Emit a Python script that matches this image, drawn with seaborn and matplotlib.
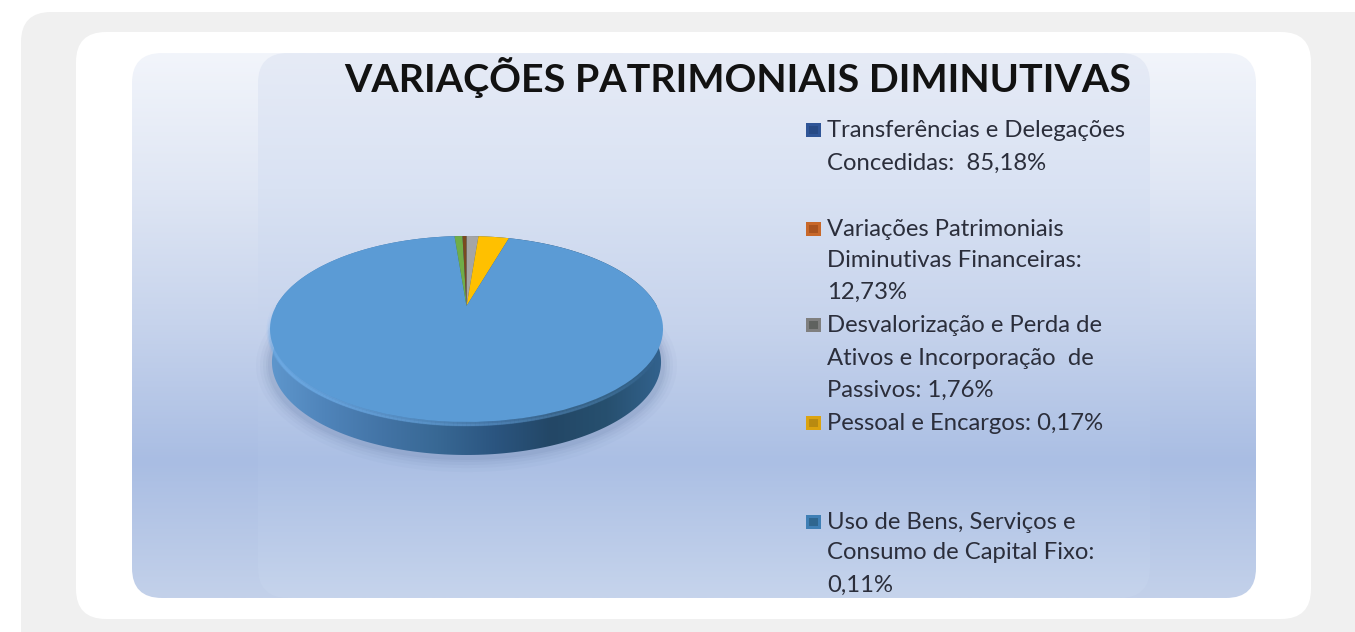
import numpy as np
import matplotlib
matplotlib.use('Agg')
import matplotlib.pyplot as plt
from matplotlib.collections import LineCollection
from matplotlib.patches import FancyBboxPatch, Polygon
from matplotlib.transforms import Transform
import seaborn as sns

# Data
slice_values = [1.25, 3.2, 94.3, 0.83, 0.42]
slice_colors = ['#a5a5a5', '#ffc000', '#5b9bd5', '#70ad47', '#7a4a1e']
legend_names = ['Transferências e Delegações\nConcedidas:  ', 'Variações Patrimoniais\nDiminutivas Financeiras:\n',
                'Desvalorização e Perda de\nAtivos e Incorporação  de\nPassivos: ', 'Pessoal e Encargos: ',
                'Uso de Bens, Serviços e\nConsumo de Capital Fixo:\n']
legend_values = ['85,18%', '12,73%', '1,76%', '0,17%', '0,11%']
legend_colors = ['#2f5597', '#c8682a', '#7f7f7f', '#dca30f', '#3f7fb5']
legend_centres = ['#274a85', '#a9531f', '#5f625f', '#b98a10', '#2f668f']
title = 'VARIAÇÕES PATRIMONIAIS DIMINUTIVAS'

sns.set_theme(style='white')
plt.rcParams['font.family'] = ['Lato', 'DejaVu Sans']

fig = plt.figure(figsize=(13.55, 6.32), dpi=100, facecolor='white')
ax = fig.add_axes([0, 0, 1, 1])
ax.axis('off')


def rounded(x0, y0, x1, y1, r, color, z):
    box = FancyBboxPatch((x0, y0), x1 - x0, y1 - y0, boxstyle=f'round,pad=0,rounding_size={r}',
                         fc=color, ec='none', zorder=z)
    ax.add_patch(box)
    return box


def gradient(box, stops, extent, z, horizontal=False):
    cmap = sns.blend_palette(stops, as_cmap=True)
    g = np.linspace(0, 1, 256)
    g = g.reshape(1, -1) if horizontal else g.reshape(-1, 1)
    im = ax.imshow(g, cmap=cmap, extent=extent, aspect='auto', zorder=z, vmin=0, vmax=1, origin='upper')
    im.set_clip_path(box)


# Page panels
rounded(21, 12, 1420, 700, 30, '#f0f0f0', 1)
rounded(76, 32, 1311, 619, 30, 'white', 2)

# Chart background and the slightly different inner area
outer = rounded(132, 53, 1256, 598, 30, 'none', 3)
gradient(outer, ['#f2f5fb', '#dfe6f4', '#c6d3ec', '#a9bde3', '#c3d1ea'], (132, 1256, 598, 53), 3)
inner = rounded(258, 53, 1150, 598, 30, 'none', 4)
gradient(inner, ['#e6ebf6', '#d9e2f3', '#c6d3ec', '#abbfe4', '#c6d4ec'], (258, 1150, 598, 53), 4)

# Tilted pie geometry, in pixels
CX, APEX_Y, K, B, A = 466.5, 306.0, 190.4, 87.3, 0.2473


class TiltTransform(Transform):
    input_dims = 2
    output_dims = 2
    is_separable = False
    has_inverse = False

    def transform_non_affine(self, values):
        u, v = np.asarray(values).T
        w = 1 + A * v
        return np.column_stack((CX + K * u / w, APEX_Y - B * v / w))


tilt = TiltTransform()
t = np.radians(np.linspace(0, 360, 361))
rim = tilt.transform(np.column_stack((np.cos(t), np.sin(t))))

# Soft shadow below the pie
for grow, alpha in zip([14, 10, 7, 4, 2], [0.03, 0.04, 0.05, 0.06, 0.07]):
    shade = rim + [0, 36]
    shade[:, 0] = CX + (shade[:, 0] - CX) * (1 + grow / 197)
    shade[:, 1] = 362 + (shade[:, 1] - 362) * (1 + grow / 95)
    ax.add_patch(Polygon(shade, fc='#4a6392', ec='none', alpha=alpha, zorder=5))

# Side wall
low = rim + [0, 33]
low[:, 0] = CX + (low[:, 0] - CX) * 0.99
body = Polygon(np.vstack((rim[:181], low[180:361])), closed=True, fc='none', ec='none', zorder=6)
ax.add_patch(body)
gradient(body, ['#5f97cd', '#4f84ba', '#4374a6', '#386894', '#2b5580', '#234766', '#27506f', '#33638f'],
         (268, 665, 470, 230), 6, horizontal=True)

# Light bevel along the front edge, fading out towards the right
front = rim[178:345]
segs = np.stack((front[:-1], front[1:]), axis=1)
fade = np.clip(np.sin(np.linspace(0, np.pi, len(segs))) * 1.6, 0, 1) ** 1.3
fade = fade * np.clip(np.linspace(1.3, 0, len(segs)), 0, 1)
for off, lw, strength in [(1, 5, 0.30), (2, 3, 0.45), (3, 1.5, 0.35)]:
    rgba = np.tile(matplotlib.colors.to_rgba('#72b1ec'), (len(segs), 1))
    rgba[:, 3] = fade * strength
    ax.add_collection(LineCollection(segs + [0, off], colors=rgba, linewidths=lw, zorder=7))

# Slices
wedges, _ = ax.pie(slice_values, colors=slice_colors, startangle=90, counterclock=False, radius=1, center=(0, 0))
for w in wedges:
    w.set_transform(tilt + ax.transData)
    w.set_zorder(8)
    w.set_edgecolor('none')

# Title
ax.text(737.5, 92, title, ha='center', va='baseline', fontsize=28.4, fontweight='bold', color='#121212', zorder=10)

# Legend
line_rows = [[137, 170], [236, 267, 299], [332, 365, 397], [430], [529, 559, 592]]
for name, value, rows in zip(legend_names, legend_values, line_rows):
    lines = (name + value).split('\n')
    for line, row in zip(lines, rows):
        ax.text(827, row, line, ha='left', va='baseline', fontsize=17.2, color='#2b2e3b', zorder=10)

swatches_x = [813.5] * 5
swatches_y = [130, 229, 325, 423, 522]
sns.scatterplot(x=swatches_x, y=swatches_y, hue=legend_values, palette=dict(zip(legend_values, legend_colors)),
                marker='s', s=110, linewidth=0, legend=False, ax=ax, zorder=10)
sns.scatterplot(x=swatches_x, y=swatches_y, hue=legend_values, palette=dict(zip(legend_values, legend_centres)),
                marker='s', s=35, linewidth=0, legend=False, ax=ax, zorder=11)

ax.set_xlim(0, 1355)
ax.set_ylim(632, 0)
ax.set_aspect('auto')
ax.axis('off')

plt.savefig('out.png', dpi=100, facecolor='white')
